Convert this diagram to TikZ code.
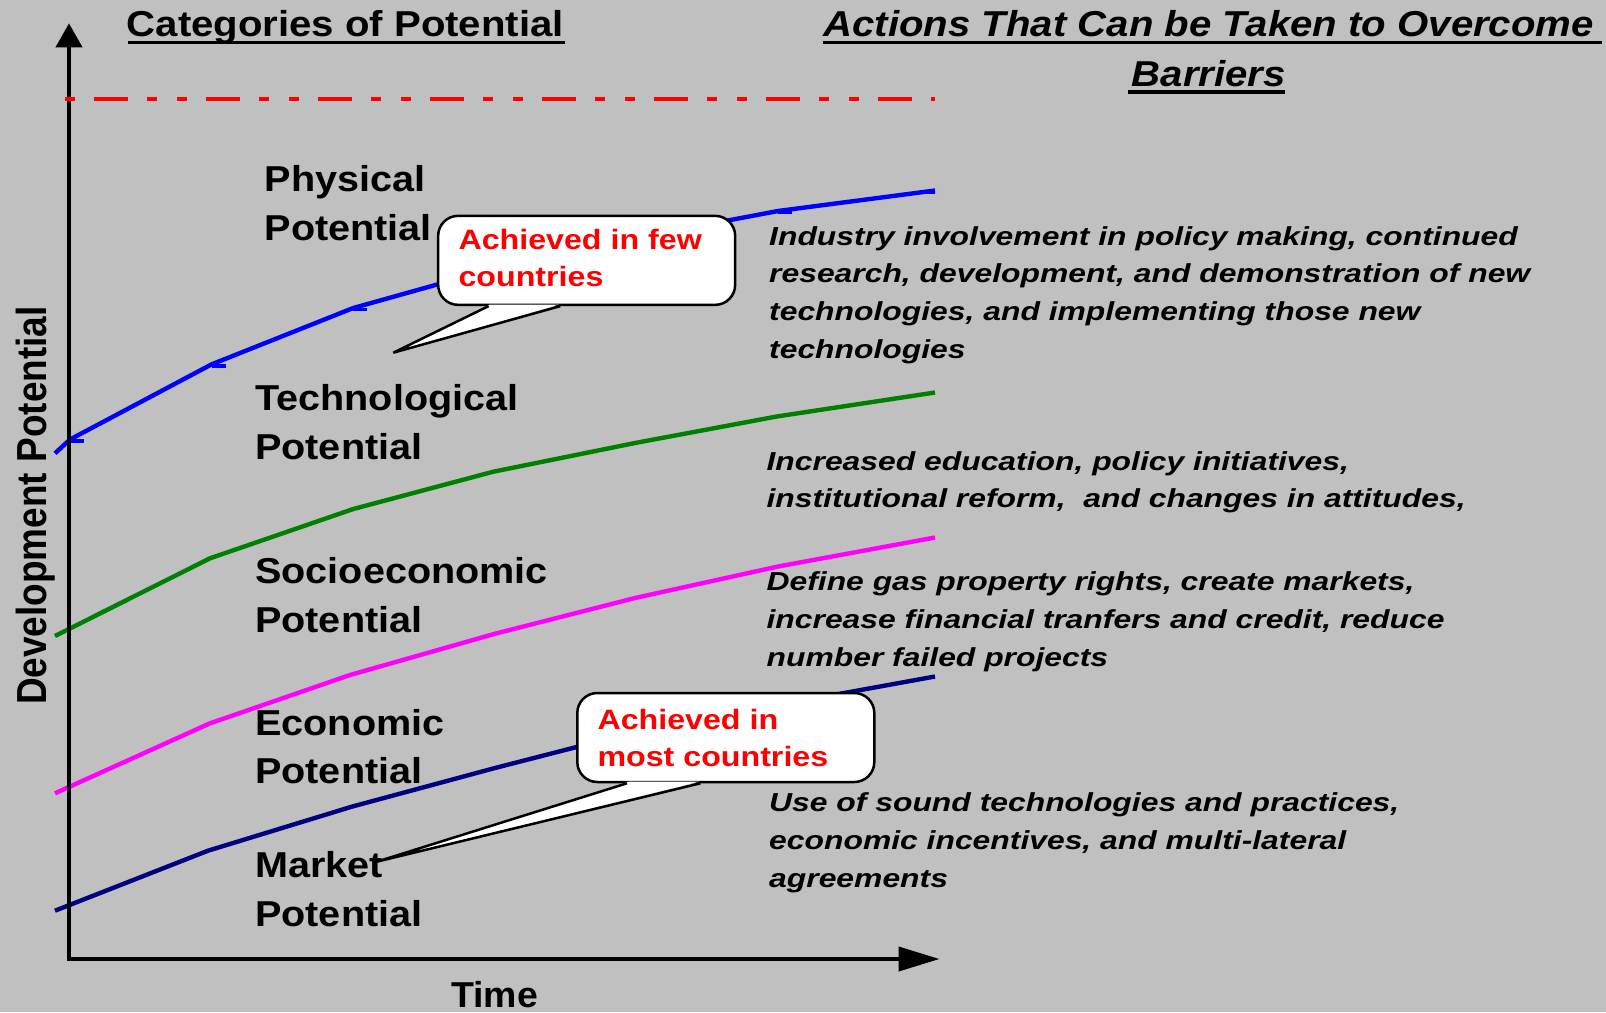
\documentclass[tikz,border=0pt]{standalone}
\usepackage{fontspec}
\setmainfont{Liberation Sans}
\newfontfamily\catfont[FakeStretch=1.10]{Liberation Sans}
\newfontfamily\headfont[FakeStretch=1.115]{Liberation Sans}
\newfontfamily\notefont[FakeStretch=1.15]{Liberation Sans}
\newfontfamily\actfont[FakeStretch=1.225]{Liberation Sans}
\newfontfamily\timefont[FakeStretch=1.04]{Liberation Sans}
\newfontfamily\devfont[FakeStretch=0.88]{Liberation Sans}
\usetikzlibrary{arrows.meta,calc}
\definecolor{panel}{RGB}{192,192,192}
\definecolor{navyline}{RGB}{0,0,128}
\definecolor{greenline}{RGB}{0,128,0}
\definecolor{blueline}{RGB}{0,0,255}
\definecolor{magline}{RGB}{255,0,255}
\definecolor{limitred}{RGB}{255,0,0}

\begin{document}
\begin{tikzpicture}[x=1pt,y=-1pt,
  trend/.style={line width=4.4pt,line join=round},
  vtick/.style={line width=3.8pt,blueline},
  catlabel/.style={anchor=base west,inner sep=0pt,font=\catfont\bfseries\fontsize{36}{48.7}\selectfont},
  headline/.style={inner sep=0pt,font=\headfont\bfseries\fontsize{36}{49.3}\selectfont},
  ulrule/.style={line width=3.7pt},
  callbox/.style={draw=black,fill=white,line width=2.5pt,rounded corners=20pt,
    minimum width=297pt,minimum height=89pt,inner sep=0pt},
  calltext/.style={anchor=base west,inner sep=0pt,text=limitred,
    font=\notefont\bfseries\fontsize{28}{37.5}\selectfont},
  calltail/.style={line width=2.5pt,line join=miter},
  action/.style={anchor=base west,inner sep=0pt,
    font=\actfont\bfseries\itshape\fontsize{26}{37.8}\selectfont}
]
\useasboundingbox (0,0) rectangle (1606,1012);
\fill[panel] (0,0) rectangle (1606,1012);

% ---- growth curves of the potentials
\draw[trend,blueline] (55,453.3) -- (70,439.5) -- (211.7,364.3) -- (353.3,308)
  -- (496,268) -- (635,238) -- (778,211) -- (935,190.5);
\foreach \vx/\vy in {70/439.5,211.7/364.3,353.3/308,778/211}
  \draw[vtick] (\vx,\vy+1.5) -- ++(14,0);
\draw[vtick] (921,192) -- (935,192);
\draw[trend,greenline] (55,636) -- (210,558.3) -- (353.3,509) -- (493.3,471.7)
  -- (635,443) -- (776.7,416.5) -- (935,392.5);
\draw[trend,magline] (55,793.3) -- (210,723.3) -- (350,675) -- (494,634)
  -- (635,598) -- (778,566.5) -- (935,537.5);
\draw[trend,navyline] (55,910.7) -- (208,850.7) -- (351.7,806.7) -- (495,768)
  -- (635,732) -- (778,705) -- (935,676.5);

% ---- axes
\coordinate (ytip) at (69,23.3);
\coordinate (origin) at (69,959);
\coordinate (xtip) at (939.5,959);
\draw[line width=4pt,line join=miter,
  {Triangle[length=24pt,width=26pt]}-{Triangle[length=41pt,width=24pt]}]
  (ytip) -- (origin) -- (xtip);

% ---- upper limit
\draw[limitred,line width=4pt,dash pattern=on 10pt off 19pt on 34pt off 19pt on 10pt off 20pt]
  (65,98.5) -- (935,98.5);

% ---- axis labels
\node[inner sep=0pt,anchor=base west,rotate=90,font=\devfont\bfseries\fontsize{42}{50}\selectfont]
  (ylab) at (46.7,705) {Development Potential};
\node[inner sep=0pt,text depth=0pt,anchor=base west,font=\timefont\bfseries\fontsize{36}{44}\selectfont]
  (xlab) at (451,1007) {Time};

% ---- category labels
\node[catlabel] (phys) at (264.5,191.7) {\begin{tabular}[t]{@{}l@{}}Physical\\Potential\end{tabular}};
\node[catlabel] (tech) at (255,410.5) {\begin{tabular}[t]{@{}l@{}}Technological\\Potential\end{tabular}};
\node[catlabel] (socio) at (255,583.3) {\begin{tabular}[t]{@{}l@{}}Socioeconomic\\Potential\end{tabular}};
\node[catlabel] (econ) at (255,735) {\begin{tabular}[t]{@{}l@{}}Economic\\Potential\end{tabular}};
\node[catlabel] (mark) at (255,877.7) {\begin{tabular}[t]{@{}l@{}}Market\\Potential\end{tabular}};

% ---- callout: few countries
\node[callbox] (c1) at (586.65,260.35) {};
\coordinate (tip1) at (393.3,352.7);
\fill[white] ($(c1.south west)+(53,-1.6)$) -- (tip1) -- ($(c1.south west)+(122,-1.6)$) -- cycle;
\draw[calltail] ($(c1.south west)+(51.7,0)$) -- (tip1) -- ($(c1.south west)+(123.4,0)$);
\node[calltext] (c1t) at (458.3,249.3) {\begin{tabular}[t]{@{}l@{}}Achieved in few\\countries\end{tabular}};

% ---- callout: most countries
\node[callbox] (c2) at (725.8,737.5) {};
\coordinate (tip2) at (376.7,861.7);
\fill[white] ($(c2.south west)+(52.5,-1.6)$) -- (tip2) -- ($(c2.south west)+(123,-1.6)$) -- cycle;
\draw[calltail] ($(c2.south west)+(51,0)$) -- (tip2) -- ($(c2.south west)+(124.4,0)$);
\node[calltext] (c2t) at (597.3,729) {\begin{tabular}[t]{@{}l@{}}Achieved in\\most countries\end{tabular}};

% ---- actions column
\node[action] (act1) at (769,245) {\begin{tabular}[t]{@{}l@{}}Industry involvement in policy making, continued\\research, development, and demonstration of new\\technologies, and implementing those new\\technologies\end{tabular}};
\node[action] (act2) at (766.4,470) {\begin{tabular}[t]{@{}l@{}}Increased education, policy initiatives,\\institutional reform,\ \ and changes in attitudes,\end{tabular}};
\node[action] (act3) at (766.4,590.6) {\begin{tabular}[t]{@{}l@{}}Define gas property rights, create markets,\\increase financial tranfers and credit, reduce\\number failed projects\end{tabular}};
\node[action] (act4) at (769,811.6) {\begin{tabular}[t]{@{}l@{}}Use of sound technologies and practices,\\economic incentives, and multi-lateral\\agreements\end{tabular}};

% ---- headings
\node[headline,anchor=base west] (head1) at (126.5,36.7) {Categories of Potential};
\draw[ulrule] (128,42.5) -- (565,42.5);
\node[headline,anchor=base] (head2) at (1208.7,36.7) {\itshape\begin{tabular}[t]{@{}c@{}}Actions That Can be Taken to Overcome\\Barriers\end{tabular}};
\draw[ulrule] (823,42.5) -- (1602,42.5);
\draw[ulrule] (1128,91.8) -- (1285,91.8);
\end{tikzpicture}
\end{document}
